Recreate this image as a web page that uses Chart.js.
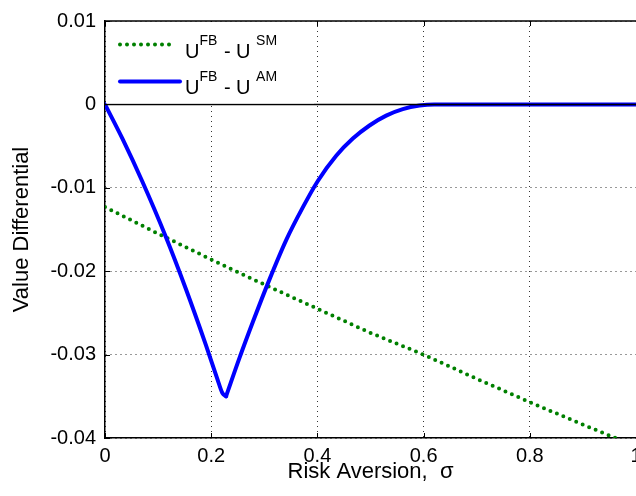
<!DOCTYPE html>
<html>
<head>
<meta charset="utf-8">
<script src="https://cdn.jsdelivr.net/npm/chart.js@4.4.0/dist/chart.umd.min.js"></script>
<style>
html, body { margin: 0; padding: 0; background: #fff; overflow: hidden; }
#wrap { width: 636px; height: 496px; overflow: hidden; }
</style>
</head>
<body>
<div id="wrap"><canvas id="myChart" width="660" height="496"></canvas></div>
<script>
// values
var sigmaSM = [0, 0.1, 0.2, 0.3, 0.4, 0.5, 0.6, 0.7, 0.8, 0.9, 1.0]
var valueSM = [-0.0123, -0.0155, -0.0186, -0.0216, -0.0245, -0.0274, -0.0300, -0.0329, -0.0357, -0.0384, -0.0410]

// AM curve, falling part (up to the kink) and rising part (from the kink)
var sigmaAMdown = [0, 0.0326, 0.0703, 0.1143, 0.152, 0.1896, 0.2115, 0.221, 0.228]
var valueAMdown = [0, -0.00408, -0.00925, -0.01584, -0.02208, -0.02878, -0.0329, -0.0346, -0.0350]
var sigmaAMup = [0.228, 0.2533, 0.2784, 0.3098, 0.3412, 0.3725, 0.4008, 0.4354, 0.4667, 0.4981, 0.5295, 0.5608, 0.5923, 0.62, 0.8, 1.0]
var valueAMup = [-0.0350, -0.0304, -0.0261, -0.02098, -0.01627, -0.01235, -0.00918, -0.00616, -0.0041, -0.00253, -0.00135, -0.00057, -0.00014, 0, 0, 0]

var xTicks = [0, 0.2, 0.4, 0.6, 0.8, 1]
var yTicks = [0.01, 0, -0.01, -0.02, -0.03, -0.04]

// legend text: base, superscript, middle, superscript
var legendSM = ["U", "FB", " - U ", "SM"]
var legendAM = ["U", "FB", " - U ", "AM"]

var FONT = "'Liberation Sans', Arial, sans-serif"
var BLUE = "#0000ff"
var GREEN = "#008000"

function pts(xs, ys) {
    return xs.map((x, i) => ({ x: x, y: ys[i] }))
}

const frame = {
    id: "frame",
    afterDraw(chart) {
        const ctx = chart.ctx
        const a = chart.chartArea
        const xs = chart.scales.x, ys = chart.scales.y
        ctx.save()
        ctx.strokeStyle = "#000"
        ctx.lineWidth = 1.5
        ctx.beginPath()
        ctx.moveTo(a.left, a.top)
        ctx.lineTo(a.right, a.top)
        ctx.stroke()
        ctx.lineWidth = 1
        ctx.beginPath()
        xTicks.forEach(v => {
            const px = Math.round(xs.getPixelForValue(v)) + 0.5
            ctx.moveTo(px, a.bottom); ctx.lineTo(px, a.bottom - 5)
            ctx.moveTo(px, a.top); ctx.lineTo(px, a.top + 5)
        })
        yTicks.forEach(v => {
            const py = Math.round(ys.getPixelForValue(v)) + 0.5
            ctx.moveTo(a.left, py); ctx.lineTo(a.left + 5, py)
        })
        ctx.stroke()

        // legend box
        const y0 = ys.getPixelForValue(0)
        ctx.fillStyle = "#fff"
        ctx.fillRect(a.left + 1, a.top + 1, 208, y0 - a.top - 2)

        const rows = [
            { ds: chart.data.datasets[3], txt: legendSM, ly: a.top + 23.5, lx2: a.left + 70, by: a.top + 37 },
            { ds: chart.data.datasets[1], txt: legendAM, ly: a.top + 60.5, lx2: a.left + 75, by: a.top + 73 }
        ]
        rows.forEach(r => {
            ctx.save()
            ctx.strokeStyle = r.ds.borderColor
            ctx.lineWidth = r.ds.borderWidth
            ctx.lineCap = r.ds.borderCapStyle || "butt"
            ctx.setLineDash(r.ds.borderDash || [])
            ctx.beginPath()
            ctx.moveTo(a.left + 15, r.ly)
            ctx.lineTo(r.lx2, r.ly)
            ctx.stroke()
            ctx.restore()

            let x = a.left + 80
            ctx.fillStyle = "#000"
            ctx.textBaseline = "alphabetic"
            r.txt.forEach((t, i) => {
                const sup = i % 2 === 1
                ctx.font = (sup ? "14px " : "20px ") + FONT
                ctx.fillText(t, x, sup ? r.by - 13 : r.by)
                x += ctx.measureText(t).width + (sup ? 1 : 0)
            })
        })
        ctx.restore()
    }
}

const amStyle = {
    borderColor: BLUE,
    borderWidth: 4,
    borderCapStyle: "round",
    borderJoinStyle: "round",
    pointRadius: 0,
    cubicInterpolationMode: "monotone",
    order: 1
}

const config = {
    type: "line",
    data: {
        datasets: [
            {
                label: "zero",
                data: pts([0, 1], [0, 0]),
                borderColor: "#000",
                borderWidth: 1.5,
                pointRadius: 0,
                order: 0
            },
            Object.assign({ label: "AM", data: pts(sigmaAMdown, valueAMdown) }, amStyle),
            Object.assign({ label: "AM2", data: pts(sigmaAMup, valueAMup) }, amStyle),
            {
                label: "SM",
                data: pts(sigmaSM, valueSM),
                borderColor: GREEN,
                borderWidth: 4,
                borderCapStyle: "round",
                borderDash: [0, 7],
                pointRadius: 0,
                tension: 0,
                order: 2
            }
        ]
    },
    options: {
        responsive: false,
        devicePixelRatio: 1,
        animation: false,
        layout: { padding: { top: 13, right: 24, left: 0, bottom: 0 } },
        plugins: {
            legend: { display: false },
            tooltip: { enabled: false }
        },
        scales: {
            x: {
                type: "linear",
                min: 0,
                max: 1,
                afterFit: s => { s.height = 58 },
                afterBuildTicks: s => { s.ticks = xTicks.map(v => ({ value: v })) },
                ticks: {
                    color: "#000",
                    padding: 6,
                    maxRotation: 0,
                    font: { family: FONT, size: 20 },
                    callback: v => String(Math.round(v * 10) / 10)
                },
                grid: { color: "#333", lineWidth: 1, drawTicks: false },
                border: { color: "#000", width: 1.5, dash: [1, 4] },
                title: {
                    display: true,
                    text: "Risk Aversion,  σ",
                    color: "#000",
                    padding: 11,
                    font: { family: FONT, size: 22 }
                }
            },
            y: {
                type: "linear",
                min: -0.04,
                max: 0.01,
                afterFit: s => { s.width = 105 },
                afterBuildTicks: s => { s.ticks = yTicks.map(v => ({ value: v })) },
                ticks: {
                    color: "#000",
                    padding: 9,
                    font: { family: FONT, size: 20 },
                    callback: v => String(Math.round(v * 100) / 100)
                },
                grid: { color: "#333", lineWidth: 1, drawTicks: false },
                border: { color: "#000", width: 1.5, dash: [1, 4] },
                title: {
                    display: true,
                    text: "Value Differential",
                    color: "#000",
                    padding: 9,
                    font: { family: FONT, size: 22 }
                }
            }
        }
    },
    plugins: [frame]
}

const myChart = new Chart(document.getElementById("myChart"), config)
</script>
</body>
</html>
